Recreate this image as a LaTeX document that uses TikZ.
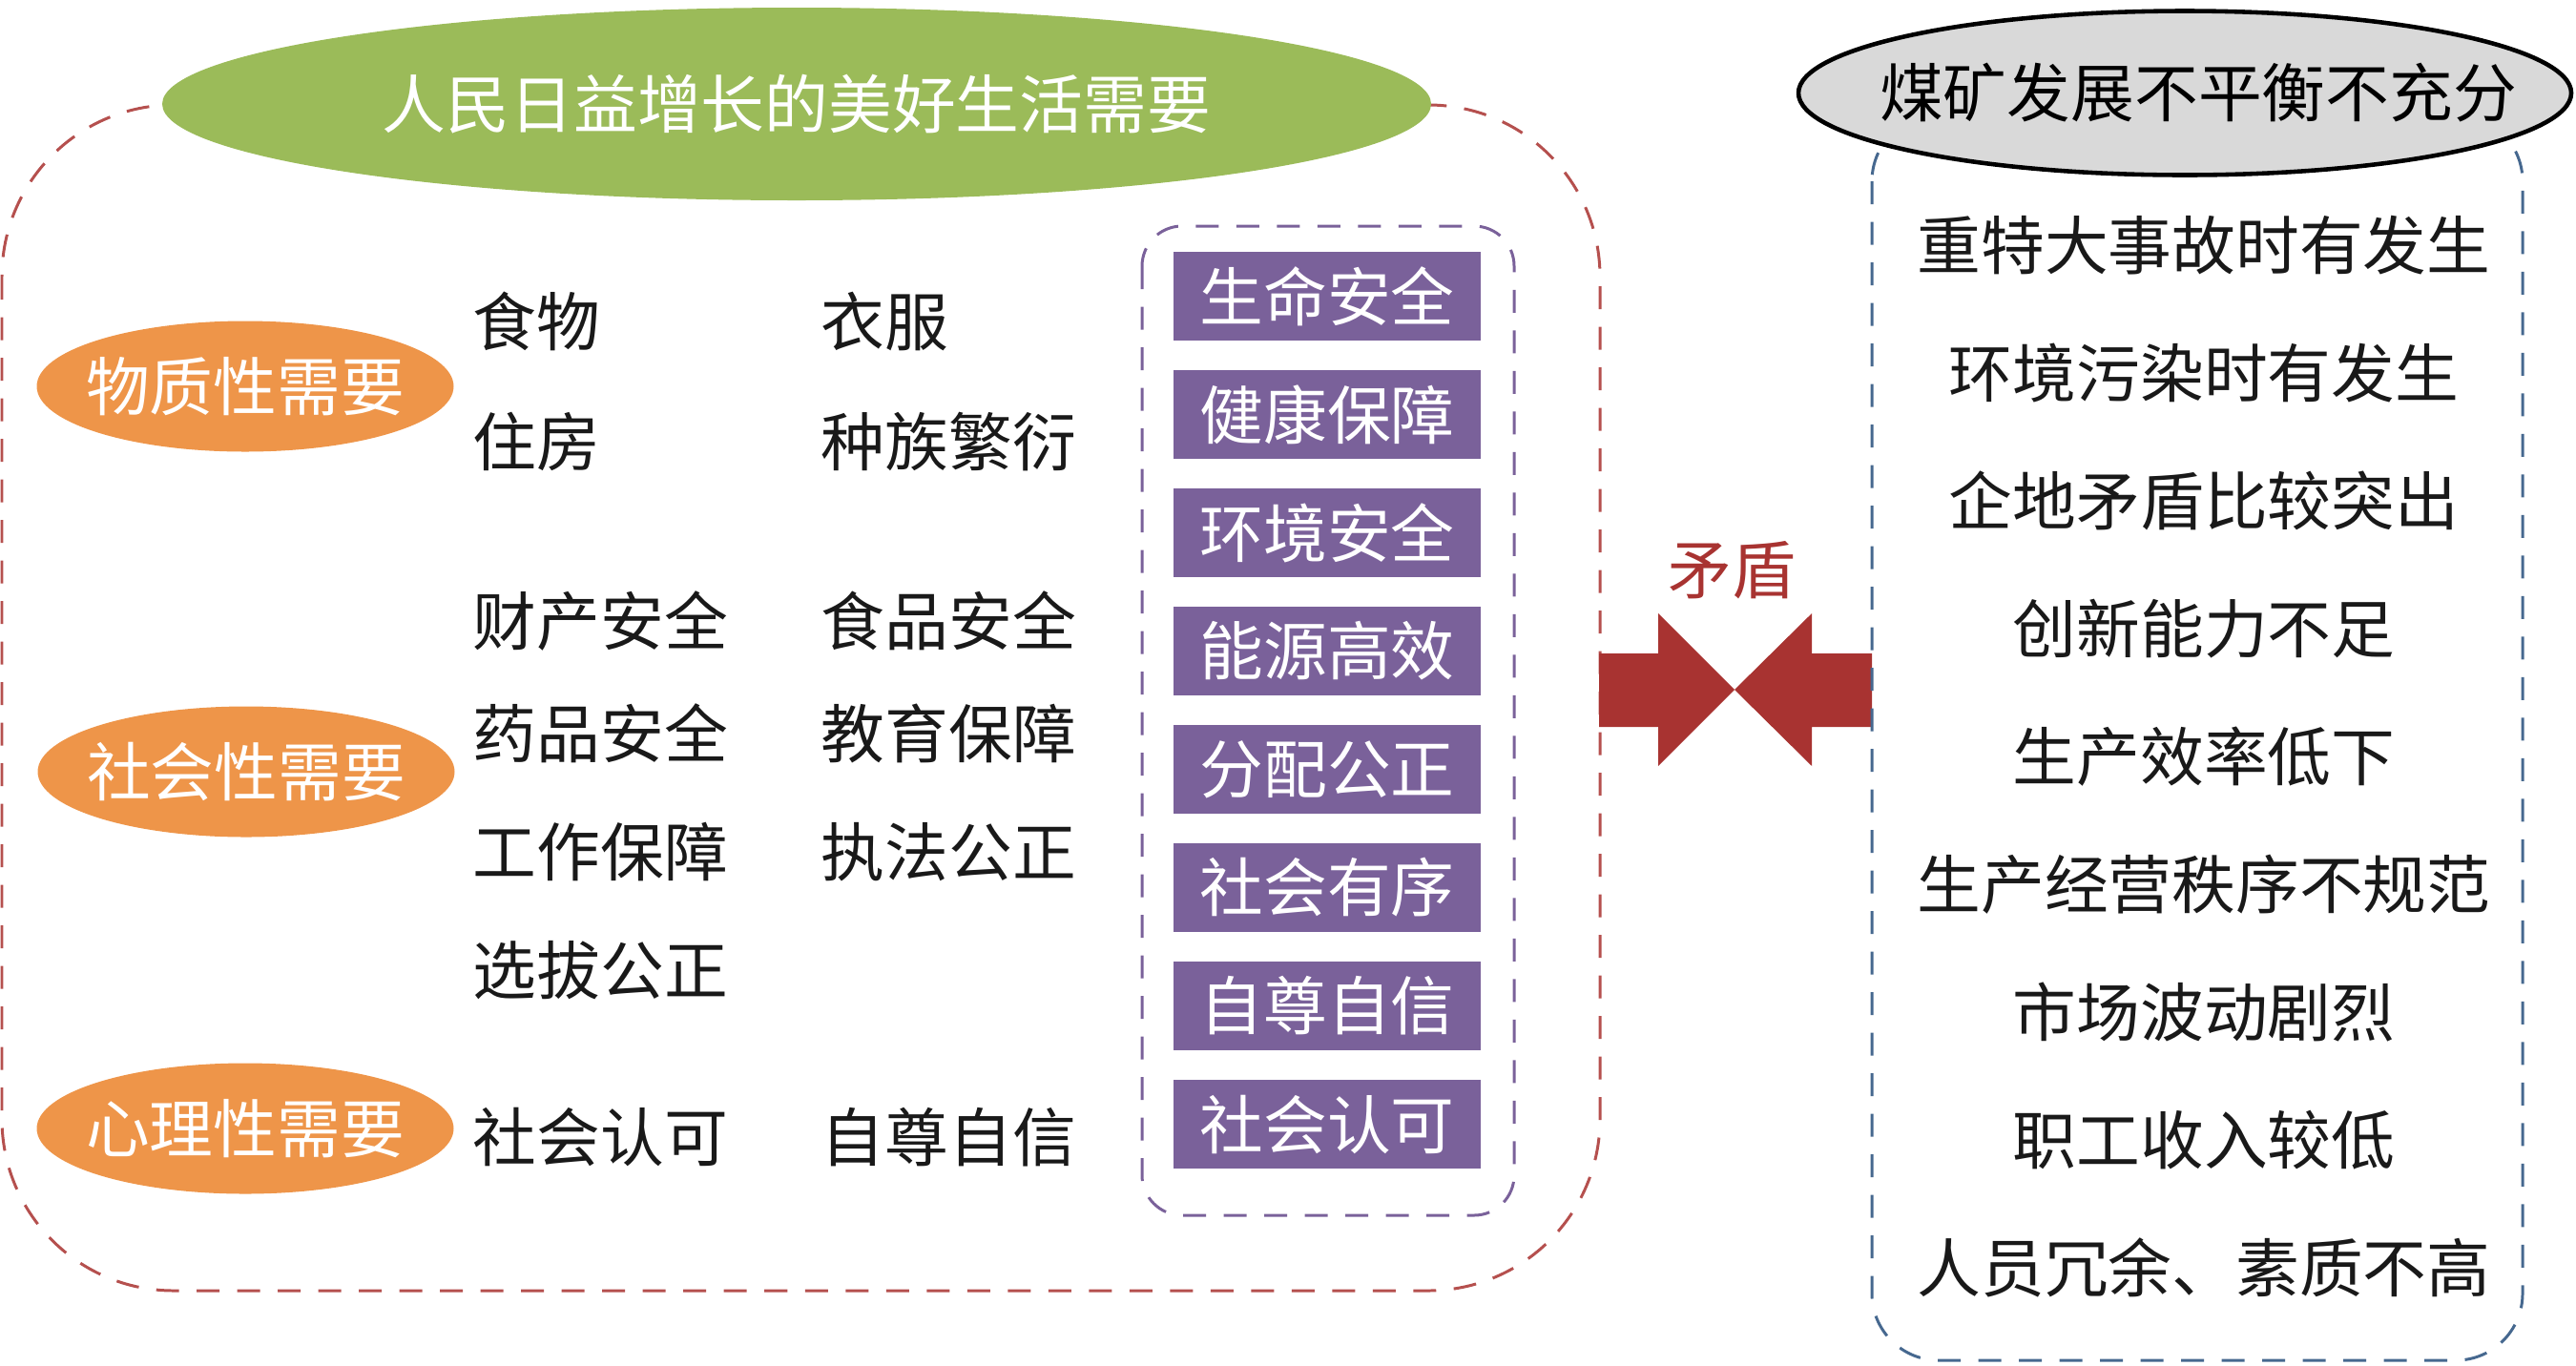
\documentclass[tikz,border=0pt]{standalone}
\usepackage{fontspec}
\newfontfamily\cjk{Noto Sans CJK SC}
\usetikzlibrary{shapes.geometric}
\definecolor{needgreen}{HTML}{9BBB59}
\definecolor{needorange}{HTML}{EE9549}
\definecolor{needpurple}{HTML}{7A619A}
\definecolor{conflictred}{HTML}{A83331}
\definecolor{boxred}{HTML}{B5504E}
\definecolor{boxblue}{HTML}{46688F}
\definecolor{mistgray}{HTML}{D9D9D9}
\begin{document}
\begin{tikzpicture}[font=\cjk\fontsize{19pt}{22pt}\selectfont, line join=round,
	dashbox/.style={dash pattern=on 0.24cm off 0.185cm, line width=0.85pt},
	needoval/.style={ellipse, fill=needorange, text=white, minimum width=4.37cm, minimum height=1.37cm, inner sep=0pt},
	itemtext/.style={anchor=west, inner sep=0pt, text=black!90},
	safebox/.style={fill=needpurple, text=white, minimum width=3.22cm, minimum height=0.93cm, inner sep=0pt},
	problemtext/.style={inner sep=0pt, text=black!90}]
			\useasboundingbox (0,0) rectangle (27,-14.31);
			\draw[dashbox, boxred, rounded corners=1.8cm] (0.02,-1.10) rectangle (16.77,-13.53);
			\node[ellipse, fill=needgreen, text=white, minimum width=13.3cm, minimum height=2.02cm, inner sep=0pt] (good) at (8.35,-1.09) {\makebox[0pt]{人民日益增长的美好生活需要}};
			\node[needoval] (material) at (2.57,-4.05) {\makebox[0pt]{物质性需要}};
			\node[needoval] (social) at (2.58,-8.09) {\makebox[0pt]{社会性需要}};
			\node[needoval] (mental) at (2.57,-11.83) {\makebox[0pt]{心理性需要}};
			\node[itemtext] (food) at (4.95,-3.37) {食物};
			\node[itemtext] (cloth) at (8.6,-3.37) {衣服};
			\node[itemtext] (house) at (4.95,-4.63) {住房};
			\node[itemtext] (family) at (8.6,-4.63) {种族繁衍};
			\node[itemtext] (property) at (4.95,-6.51) {财产安全};
			\node[itemtext] (foodsafe) at (8.6,-6.51) {食品安全};
			\node[itemtext] (drug) at (4.95,-7.69) {药品安全};
			\node[itemtext] (school) at (8.6,-7.69) {教育保障};
			\node[itemtext] (job) at (4.95,-8.93) {工作保障};
			\node[itemtext] (law) at (8.6,-8.93) {执法公正};
			\node[itemtext] (select) at (4.95,-10.17) {选拔公正};
			\node[itemtext] (approve) at (4.95,-11.92) {社会认可};
			\node[itemtext] (esteem) at (8.6,-11.92) {自尊自信};
			\draw[dashbox, needpurple, rounded corners=0.42cm] (11.97,-2.37) rectangle (15.87,-12.74);
			\node[safebox] (life) at (13.91,-3.105) {生命安全};
			\node[safebox] (health) at (13.91,-4.345) {健康保障};
			\node[safebox] (envsafe) at (13.91,-5.585) {环境安全};
			\node[safebox] (energy) at (13.91,-6.825) {能源高效};
			\node[safebox] (share) at (13.91,-8.065) {分配公正};
			\node[safebox] (order) at (13.91,-9.305) {社会有序};
			\node[safebox] (pride) at (13.91,-10.545) {自尊自信};
			\node[safebox] (respect) at (13.91,-11.785) {社会认可};
			\fill[conflictred] (16.76,-6.85) -- (17.38,-6.85) -- (17.38,-6.43) -- (18.18,-7.23) -- (17.38,-8.03) -- (17.38,-7.62) -- (16.76,-7.62) -- cycle;
			\fill[conflictred] (19.62,-6.85) -- (18.99,-6.85) -- (18.99,-6.43) -- (18.18,-7.23) -- (18.99,-8.03) -- (18.99,-7.62) -- (19.62,-7.62) -- cycle;
			\node[text=conflictred, inner sep=0pt] (conflict) at (18.15,-5.98) {矛盾};
			\draw[dashbox, boxblue, rounded corners=0.7cm] (19.62,-1.20) rectangle (26.44,-14.26);
			\node[ellipse, draw=black, line width=1.3pt, fill=mistgray, minimum width=8.1cm, minimum height=1.72cm, inner sep=0pt] (uneven) at (22.9,-0.975) {\makebox[0pt]{\hspace{0.28cm}煤矿发展不平衡不充分}};
			\node[problemtext] (accident) at (23.1,-2.57) {重特大事故时有发生};
			\node[problemtext] (pollute) at (23.1,-3.91) {环境污染时有发生};
			\node[problemtext] (local) at (23.1,-5.25) {企地矛盾比较突出};
			\node[problemtext] (innovate) at (23.1,-6.59) {创新能力不足};
			\node[problemtext] (output) at (23.1,-7.93) {生产效率低下};
			\node[problemtext] (manage) at (23.1,-9.27) {生产经营秩序不规范};
			\node[problemtext] (market) at (23.1,-10.61) {市场波动剧烈};
			\node[problemtext] (income) at (23.1,-11.95) {职工收入较低};
			\node[problemtext] (staff) at (23.1,-13.29) {人员冗余、素质不高};
\end{tikzpicture}
\end{document}
